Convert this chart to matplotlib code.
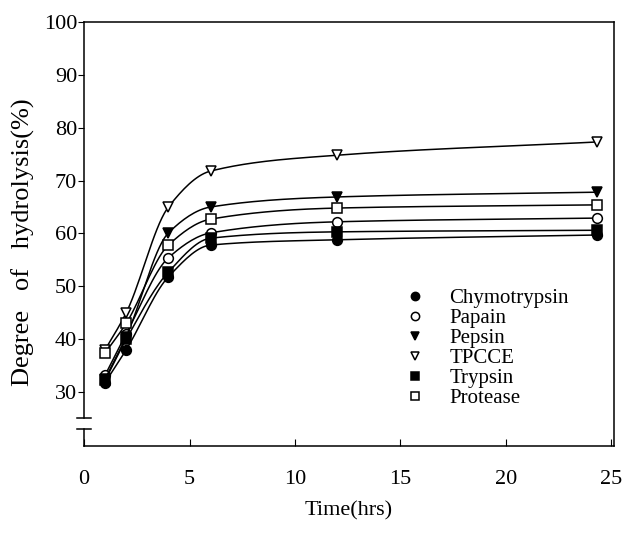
import numpy as np
import matplotlib.pyplot as plt

plt.rcParams['font.family'] = ['Liberation Serif', 'DejaVu Serif']

# sampling times (hrs)
time_hrs = [1, 2, 4, 6, 12, 24.3]

# degree of hydrolysis (%) per enzyme
chymotrypsin = [31.8, 38.0, 51.8, 57.8, 58.8, 59.7]
papain = [33.2, 41.0, 55.4, 60.1, 62.2, 62.9]
pepsin = [32.5, 40.5, 60.1, 65.0, 66.9, 67.8]
tpcce = [38.0, 45.0, 65.0, 71.8, 74.8, 77.3]
trypsin = [32.2, 40.0, 52.7, 59.1, 60.3, 60.6]
protease = [37.4, 43.0, 57.8, 62.7, 64.8, 65.4]


def smooth(x, y, n=200):
    # monotone cubic (pchip) just for drawing the connecting curve
    x = np.asarray(x, float)
    y = np.asarray(y, float)
    h = np.diff(x)
    d = np.diff(y) / h
    m = np.zeros_like(y)
    for i in range(1, len(x) - 1):
        if d[i - 1] * d[i] > 0:
            w1 = 2 * h[i] + h[i - 1]
            w2 = h[i] + 2 * h[i - 1]
            m[i] = (w1 + w2) / (w1 / d[i - 1] + w2 / d[i])
    m[0] = d[0]
    m[-1] = d[-1]
    xs = np.linspace(x[0], x[-1], n)
    idx = np.clip(np.searchsorted(x, xs) - 1, 0, len(x) - 2)
    t = (xs - x[idx]) / h[idx]
    h00 = 2 * t**3 - 3 * t**2 + 1
    h10 = t**3 - 2 * t**2 + t
    h01 = -2 * t**3 + 3 * t**2
    h11 = t**3 - t**2
    ys = h00 * y[idx] + h10 * h[idx] * m[idx] + h01 * y[idx + 1] + h11 * h[idx] * m[idx + 1]
    return xs, ys


series = [
    ("Chymotrypsin", chymotrypsin, "o", "black"),
    ("Papain", papain, "o", "white"),
    ("Pepsin", pepsin, "v", "black"),
    ("TPCCE", tpcce, "v", "white"),
    ("Trypsin", trypsin, "s", "black"),
    ("Protease", protease, "s", "white"),
]

fig = plt.figure(figsize=(6.38, 5.36), dpi=100)
ax = fig.add_axes([0.1317, 0.168, 0.830, 0.791])

for name, vals, mk, fc in series:
    xs, ys = smooth(time_hrs, vals)
    ax.plot(xs, ys, color="black", lw=1.1)
    ax.plot(time_hrs, vals, linestyle="none", marker=mk, markersize=7,
            markerfacecolor=fc, markeredgecolor="black", markeredgewidth=1.1,
            label=name)

ax.set_xlim(0, 25.1)
ax.set_ylim(19.8, 100)
ax.set_xticks([0, 5, 10, 15, 20, 25])
ax.set_yticks([30, 40, 50, 60, 70, 80, 90, 100])
ax.tick_params(axis="x", direction="in", length=5, labelsize=16, pad=17)
ax.tick_params(axis="y", direction="out", length=4, labelsize=16, pad=1)
for s in ax.spines.values():
    s.set_linewidth(1.1)

# broken y axis
ax.spines["left"].set_bounds(25, 100)
tr = ax.get_yaxis_transform()
ax.plot([0, 0], [19.8, 23.0], color="black", lw=1.1, transform=tr, clip_on=False)
ax.plot([-0.014, 0.014], [23.0, 23.0], color="black", lw=1.1, transform=tr, clip_on=False)
ax.plot([-0.014, 0.014], [25.1, 25.1], color="black", lw=1.1, transform=tr, clip_on=False)

ax.set_xlabel("Time(hrs)", fontsize=16, labelpad=9)
ax.set_ylabel("Degree   of   hydrolysis(%)", fontsize=19)
ax.yaxis.set_label_coords(-0.093, 0.48)

ax.legend(loc="upper left", bbox_to_anchor=(0.566, 0.395), frameon=False,
          fontsize=15, handletextpad=0.66, labelspacing=0.02, markerscale=0.85,
          borderpad=0)

fig.savefig("out.png", dpi=100)
